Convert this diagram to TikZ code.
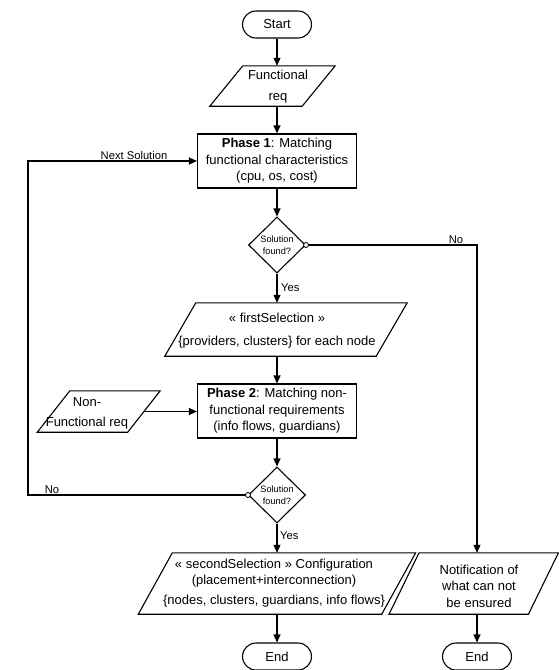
\documentclass[tikz,border=0pt]{standalone}
\usepackage{fontspec}
\setmainfont{Liberation Sans}
\usetikzlibrary{arrows.meta,shapes.geometric,calc}
\newcommand\paraout[2]{\draw[ln] ($(#1.north west)+(#2,0)$) -- ($(#1.north east)+(#2,0)$) -- ($(#1.south east)-(#2,0)$) -- ($(#1.south west)-(#2,0)$) -- cycle;}
\begin{document}
\begin{tikzpicture}[x=1pt,y=-1pt,
  ln/.style={line width=1.1pt},
  txt/.style={font=\fontsize{13}{16.5}\selectfont, align=center, inner sep=0pt},
  term/.style={txt, draw, ln, rounded corners=13.5pt, minimum width=69pt, minimum height=27pt},
  proc/.style={txt, draw, ln, minimum width=159pt, minimum height=54pt},
  ioblk/.style={inner sep=0pt},
  dec/.style={draw, ln, diamond, minimum width=57pt, minimum height=56pt, inner sep=0pt},
  dectxt/.style={font=\fontsize{9.2}{12.5}\selectfont, align=center, inner sep=0pt},
  lbl/.style={font=\fontsize{11.2}{13}\selectfont, inner sep=0pt},
  arr/.style={ln, -{Triangle[length=8pt,width=7pt]}},
  openmark/.style={circle, draw, line width=0.8pt, fill=white, minimum size=5pt, inner sep=0pt}
]
\useasboundingbox (0,0) rectangle (559,670);
\fill[white] (0,0) rectangle (559,670);

\node[term] (start) at (277,24.5) {Start};
\node[ioblk, minimum width=92pt, minimum height=40pt] (fr) at (272.5,86) {};
\node[txt] (frt) at (278,86.5) {Functional\\[4pt]req};
\node[proc] (p1) at (277,161) {\textbf{Phase 1}: Matching\\functional characteristics\\(cpu, os, cost)};
\node[dec] (d1) at (277,245) {};
\node[dectxt] (d1t) at (d1) {Solution\\found?};
\node[ioblk, minimum width=211pt, minimum height=53pt] (fs) at (286,329.5) {};
\node[txt] (fst) at (277,330.5) {« firstSelection »\\[6.5pt]\{providers, clusters\} for each node};
\node[proc] (p2) at (277,411) {\textbf{Phase 2}: Matching non-\\functional requirements\\(info flows, guardians)};
\node[ioblk, minimum width=90pt, minimum height=41pt] (nf) at (98.75,411.5) {};
\node[txt] (nft) at (87,413) {Non-\\[3.5pt]Functional req};
\node[dec] (d2) at (277,495) {};
\node[dectxt] (d2t) at (d2) {Solution\\found?};
\node[ioblk, minimum width=243pt, minimum height=61pt] (ss) at (277,583.5) {};
\node[txt] (sst) at (274,583) {« secondSelection » Configuration\\(placement+interconnection)\\[3pt]\{nodes, clusters, guardians, info flows\}};
\node[ioblk, minimum width=139pt, minimum height=61pt] (nt) at (473.75,583.5) {};
\node[txt] (ntt) at (479,586) {Notification of\\what can not\\be ensured};
\node[term] (end1) at (277,656.5) {End};
\node[term] (end2) at (477,656.5) {End};

\paraout{fr}{16.5}
\paraout{fs}{15.5}
\paraout{nf}{16.25}
\paraout{ss}{17}
\paraout{nt}{15}

\coordinate (cx) at (477,245);
\coordinate (lx) at (28,0);

\draw[arr] (start.south) -- (start.south |- fr.north);
\draw[arr] (fr.south -| p1.north) -- (p1.north);
\draw[arr] (p1.south) -- (d1.north);
\draw[arr] (d1.south) -- (d1.south |- fs.north);
\draw[arr] (fs.south -| p2.north) -- (p2.north);
\draw[arr] (nf.east) -- (nf.east -| p2.west);
\draw[arr] (p2.south) -- (d2.north);
\draw[arr] (d2.south) -- (d2.south |- ss.north);
\draw[arr] (ss.south -| end1.north) -- (end1.north);
\draw[arr] (d1.east) -- (cx) -- (cx |- nt.north);
\draw[arr] (nt.south -| end2.north) -- (end2.north);
\draw[arr] (d2.west) -- (d2.west -| lx) -- (lx |- p1.west) -- (p1.west);

\node[openmark] (m1) at (d1.east) {};
\node[openmark] (m2) at (d2.west) {};

\node[lbl, anchor=west] (y1) at (281,288) {Yes};
\node[lbl, anchor=west] (y2) at (280,536) {Yes};
\node[lbl] (n1) at (456,240) {No};
\node[lbl] (n2) at (52,490) {No};
\node[lbl] (ns) at (134,155) {Next Solution};
\end{tikzpicture}
\end{document}
